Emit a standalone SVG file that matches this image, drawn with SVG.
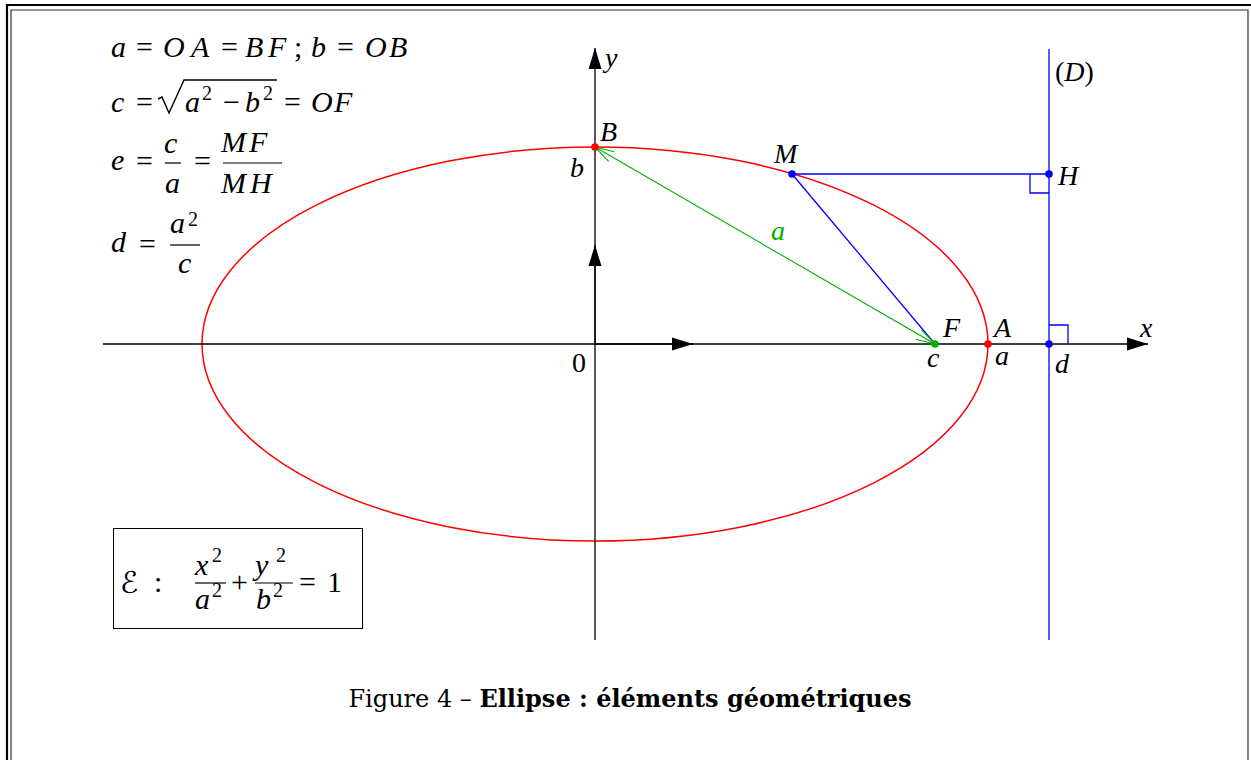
<svg xmlns="http://www.w3.org/2000/svg" width="1251" height="760" viewBox="0 0 1251 760">
<style>
.m{font-family:"Liberation Serif","Times New Roman",serif;font-style:italic;font-size:30px;fill:#000}
.u{font-family:"Liberation Serif","Times New Roman",serif;font-size:30px;fill:#000}
.s{font-family:"Liberation Serif","Times New Roman",serif;font-size:20px;fill:#000}
.l{font-family:"Liberation Serif","Times New Roman",serif;font-style:italic;font-size:28px;fill:#000}
.lu{font-family:"Liberation Serif","Times New Roman",serif;font-size:28px;fill:#000}
.bar{stroke:#000;stroke-width:1.2}
.ax{stroke:#000;stroke-width:1.3;fill:none}
.bl{stroke:#0000ff;stroke-width:1.3;fill:none}
.cap{font-family:"DejaVu Serif",serif;font-size:24px;fill:#000}
</style>
<defs>
<marker id="ah" viewBox="-22 -7 23 14" refX="0" refY="0" markerWidth="23" markerHeight="14" markerUnits="userSpaceOnUse" orient="auto"><path d="M-21,-6.5 L0,0 L-21,6.5 Z" fill="#000"/></marker>
<marker id="ga" viewBox="-21 -7 22 14" refX="0" refY="0" markerWidth="22" markerHeight="14" markerUnits="userSpaceOnUse" orient="auto-start-reverse"><path d="M-19,-5.5 L0,0 L-19,5.5" fill="none" stroke="#00b000" stroke-width="1.1"/></marker>
</defs>
<rect width="1251" height="760" fill="#fff"/>
<g id="frame" fill="none">
<path d="M7,760 V5 H1251" stroke="#000" stroke-width="2.2"/>
<path d="M11,760 V10 H1248 V760" stroke="#333" stroke-width="1.2"/>
</g>
<g id="ellipse"><ellipse cx="595" cy="344" rx="393" ry="197" fill="none" stroke="#ff0000" stroke-width="1.5"/></g>
<g id="connectors">
<line class="ax" x1="103" y1="344" x2="1148" y2="344" marker-end="url(#ah)"/>
<line class="ax" x1="595" y1="640" x2="595" y2="48" marker-end="url(#ah)"/>
<line class="ax" x1="595" y1="344" x2="693" y2="344" marker-end="url(#ah)"/>
<line class="ax" x1="595" y1="344" x2="595" y2="245" marker-end="url(#ah)"/>
<line class="bl" x1="1049" y1="49" x2="1049" y2="640"/>
<line class="bl" x1="792" y1="174" x2="1049" y2="174"/>
<line class="bl" x1="792" y1="174" x2="935" y2="344"/>
<polyline class="bl" points="1049,193 1030,193 1030,174"/>
<polyline class="bl" points="1049,325 1068,325 1068,344"/>
<line x1="595" y1="147" x2="935" y2="344" stroke="#00b000" stroke-width="1.1" marker-start="url(#ga)" marker-end="url(#ga)"/>
</g>
<g id="points">
<circle id="pB" cx="595" cy="147" r="3.8" fill="#ff0000"/>
<circle id="pA" cx="988" cy="344" r="3.8" fill="#ff0000"/>
<circle id="pF" cx="935" cy="344" r="3.8" fill="#00b000"/>
<circle id="pM" cx="792" cy="174" r="3.8" fill="#0000ff"/>
<circle id="pH" cx="1049" cy="174" r="3.8" fill="#0000ff"/>
<circle id="pD" cx="1049" cy="344" r="3.8" fill="#0000ff"/>
</g>
<g id="labels">
<text class="l" x="605" y="67">y</text>
<text class="l" x="600" y="141">B</text>
<text class="l" x="570" y="177">b</text>
<text class="l" x="774" y="163">M</text>
<text class="l" x="1058" y="185">H</text>
<text class="lu" x="1055" y="81">(<tspan font-style="italic">D</tspan>)</text>
<text class="l" x="943" y="337">F</text>
<text class="l" x="994" y="337">A</text>
<text class="l" x="1140" y="337">x</text>
<text class="l" x="927" y="367">c</text>
<text class="l" x="995" y="365">a</text>
<text class="l" x="1055" y="373">d</text>
<text class="lu" x="572" y="372">0</text>
<text class="l" x="771" y="240" style="fill:#00b000">a</text>
</g>
<g id="formulas">
<text class="m" x="111" y="57">a</text>
<text class="u" x="136" y="57">=</text>
<text class="m" x="163 191" y="57">OA</text>
<text class="u" x="221" y="57">=</text>
<text class="m" x="245 268" y="57">BF</text>
<text class="u" x="294" y="57">;</text>
<text class="m" x="311" y="57">b</text>
<text class="u" x="337" y="57">=</text>
<text class="m" x="365 389" y="57">OB</text>

<text class="m" x="111" y="112">c</text>
<text class="u" x="136" y="112">=</text>
<path d="M158,99 L162,97 L169,113 L184,80 H277" fill="none" stroke="#000" stroke-width="1.4"/>
<text class="m" x="185" y="112">a</text>
<text class="s" x="202" y="100">2</text>
<text class="u" x="223" y="112">−</text>
<text class="m" x="245" y="112">b</text>
<text class="s" x="263" y="100">2</text>
<text class="u" x="284" y="112">=</text>
<text class="m" x="311 334" y="112">OF</text>

<text class="m" x="111" y="170">e</text>
<text class="u" x="136" y="171">=</text>
<text class="m" x="164" y="153">c</text>
<line class="bar" x1="165" y1="163" x2="181" y2="163"/>
<text class="m" x="165" y="193">a</text>
<text class="u" x="194" y="171">=</text>
<text class="m" x="221 249" y="152">MF</text>
<line class="bar" x1="223" y1="163" x2="282" y2="163"/>
<text class="m" x="221 250" y="193">MH</text>

<text class="m" x="111" y="252">d</text>
<text class="u" x="139" y="254">=</text>
<text class="m" x="170" y="233">a</text>
<text class="s" x="188" y="226">2</text>
<line class="bar" x1="170" y1="245" x2="200" y2="245"/>
<text class="m" x="178" y="273">c</text>
</g>
<g id="equation-box">
<rect x="113.5" y="528.5" width="249" height="100" fill="none" stroke="#000" stroke-width="1"/>
<text x="120" y="593" font-family="DejaVu Sans, sans-serif" font-size="30">ℰ</text>
<text class="u" x="154" y="592">:</text>
<text class="m" x="195" y="575">x</text>
<text class="s" x="212" y="562">2</text>
<line class="bar" x1="195" y1="583" x2="226" y2="583"/>
<text class="m" x="195" y="609">a</text>
<text class="s" x="212" y="597">2</text>
<text class="u" x="231" y="592">+</text>
<text class="m" x="255" y="575">y</text>
<text class="s" x="276" y="562">2</text>
<line class="bar" x1="255" y1="583" x2="293" y2="583"/>
<text class="m" x="256" y="609">b</text>
<text class="s" x="273" y="597">2</text>
<text class="u" x="299" y="592">=</text>
<text class="u" x="327" y="592">1</text>
</g>
<g id="caption">
<text class="cap" x="630" y="707" text-anchor="middle">Figure 4 – <tspan font-weight="bold">Ellipse : éléments géométriques</tspan></text>
</g>
</svg>
